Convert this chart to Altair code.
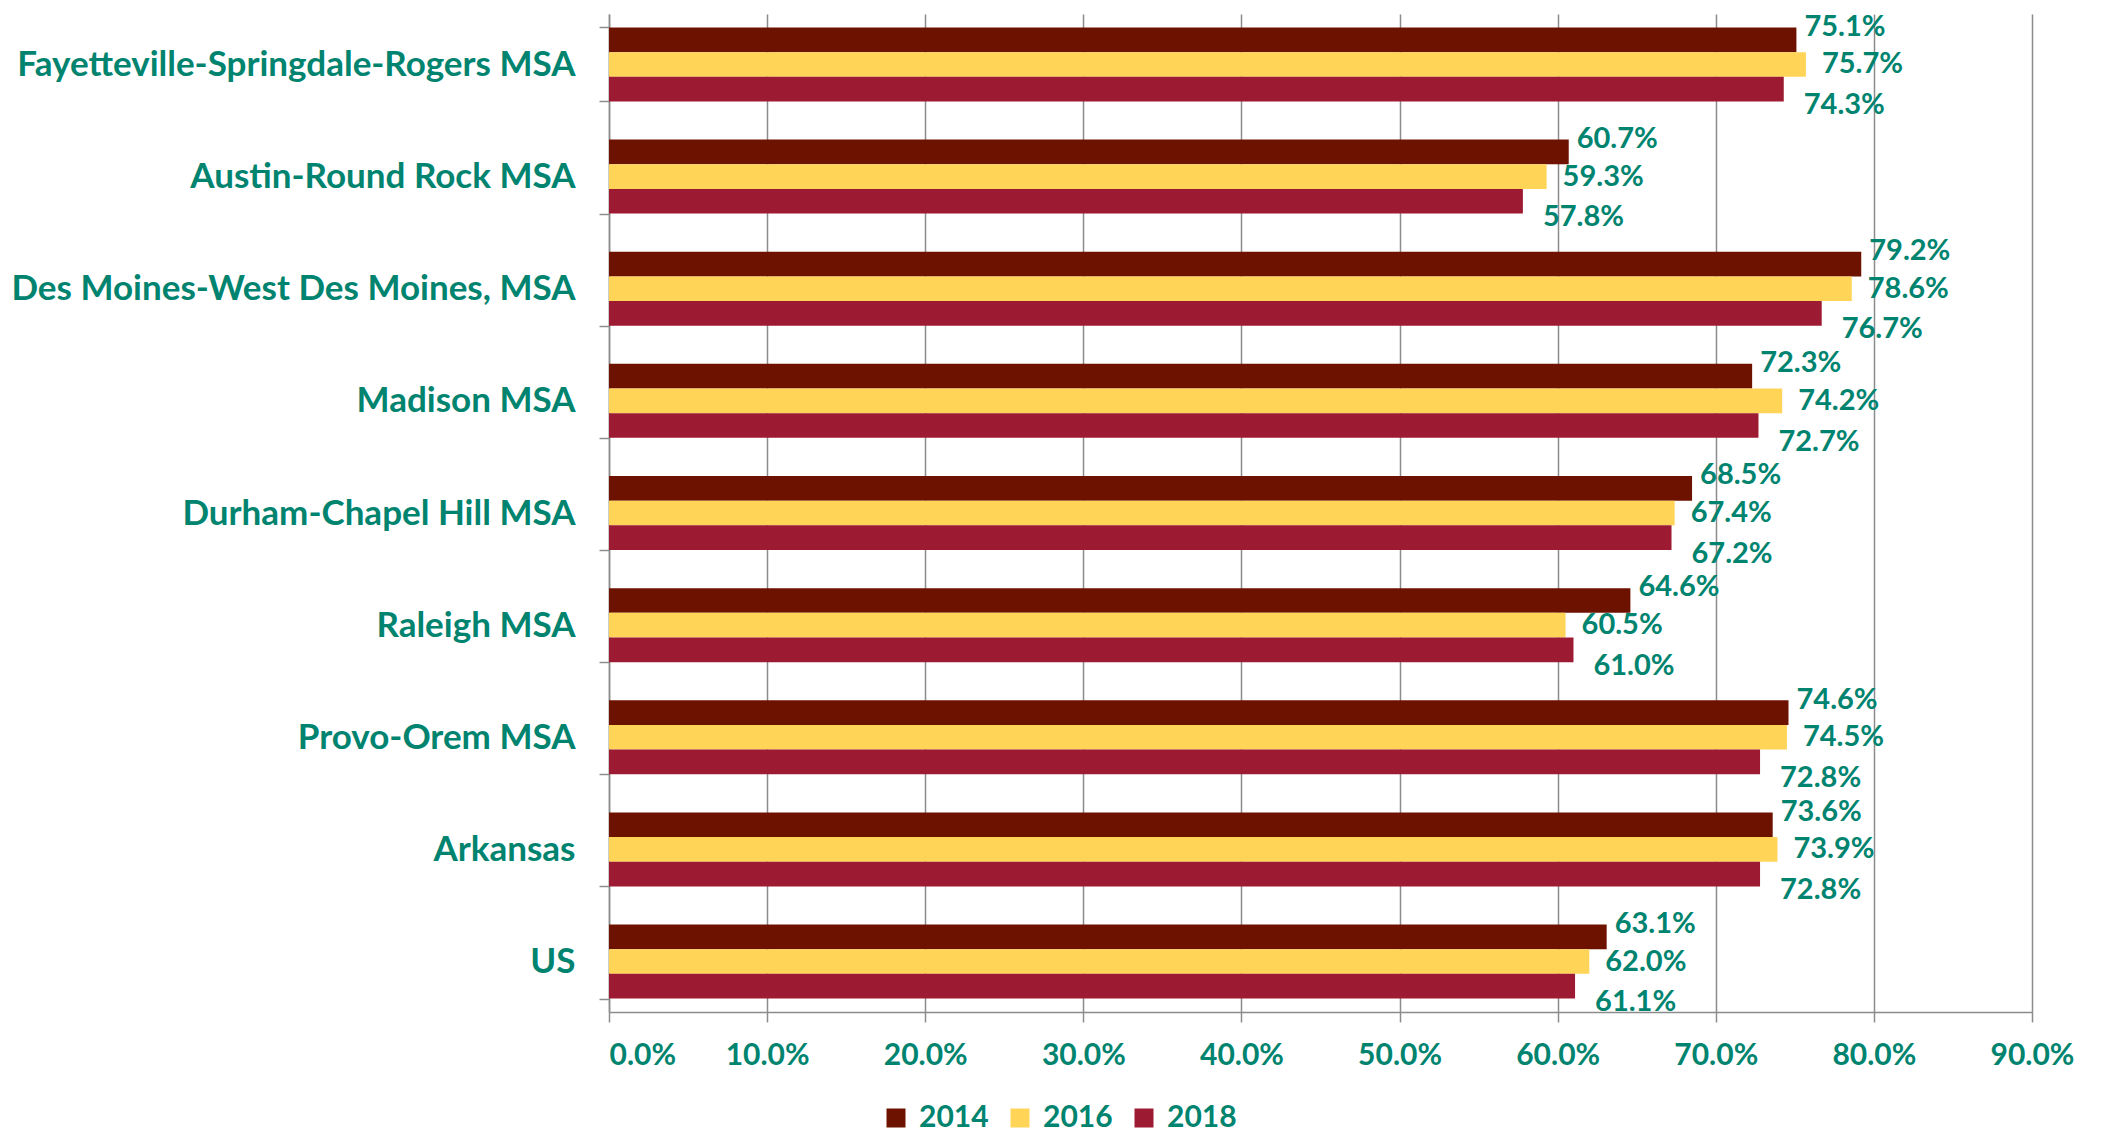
import altair as alt
import pandas as pd

categories = [
    "Fayetteville-Springdale-Rogers MSA",
    "Austin-Round Rock MSA",
    "Des Moines-West Des Moines, MSA",
    "Madison MSA",
    "Durham-Chapel Hill MSA",
    "Raleigh MSA",
    "Provo-Orem MSA",
    "Arkansas",
    "US",
]
years = ["2014", "2016", "2018"]
v2014 = [75.1, 60.7, 79.2, 72.3, 68.5, 64.6, 74.6, 73.6, 63.1]
v2016 = [75.7, 59.3, 78.6, 74.2, 67.4, 60.5, 74.5, 73.9, 62.0]
v2018 = [74.3, 57.8, 76.7, 72.7, 67.2, 61.0, 72.8, 72.8, 61.1]
x_ticks = [0.0, 0.1, 0.2, 0.3, 0.4, 0.5, 0.6, 0.7, 0.8, 0.9]

colors = ["#6E1200", "#FFD457", "#9D1B32"]
TEAL = "#00846F"
GRAY = "#8c8c8c"
FONT = "Lato"
WEIGHT = "bold"

rows = []
for yr, vals in zip(years, [v2014, v2016, v2018]):
    for c, v in zip(categories, vals):
        rows.append({"category": c, "year": yr, "value": v / 100.0})
df = pd.DataFrame(rows)

y_enc = alt.Y(
    "category:N",
    sort=categories,
    scale=alt.Scale(paddingInner=0.34, paddingOuter=0.12),
    axis=alt.Axis(
        title=None,
        grid=False,
        ticks=True,
        tickBand="extent",
        tickSize=10,
        labelPadding=24,
        labelLimit=0,
        labelFontSize=35,
    ),
)
yoff_enc = alt.YOffset(
    "year:N", sort=years, scale=alt.Scale(domain=years, paddingInner=0, paddingOuter=0)
)
x_enc = alt.X(
    "value:Q",
    scale=alt.Scale(domain=[0, 0.9], nice=False, zero=True),
    axis=alt.Axis(
        title=None,
        format=".1%",
        values=x_ticks,
        grid=True,
        tickSize=10,
        labelPadding=18,
        labelFlush=False,
        labelFontSize=30,
        labelAlign={"condition": {"test": "datum.value == 0", "value": "left"}, "value": "center"},
    ),
)

base = alt.Chart(df)

bars = base.mark_bar().encode(
    y=y_enc,
    yOffset=yoff_enc,
    x=x_enc,
    color=alt.Color(
        "year:N",
        scale=alt.Scale(domain=years, range=colors),
        legend=alt.Legend(
            title=None,
            orient="none",
            direction="horizontal",
            legendX=272,
            legendY=1089,
            symbolType="square",
            symbolSize=361,
            symbolStrokeWidth=0,
            labelFont=FONT,
            labelFontSize=30,
            labelFontWeight=WEIGHT,
            labelColor=TEAL,
            labelOffset=8,
            columnPadding=16,
        ),
    ),
)

offsets = {"2014": (8, -13), "2016": (16, 0), "2018": (20, 16)}
texts = []
for yr in years:
    dx, dy = offsets[yr]
    texts.append(
        base.transform_filter(alt.datum.year == yr)
        .mark_text(
            align="left",
            baseline="middle",
            dx=dx,
            dy=dy,
            font=FONT,
            fontSize=29,
            fontWeight=WEIGHT,
            color=TEAL,
        )
        .encode(
            y=y_enc,
            yOffset=yoff_enc,
            x=x_enc,
            text=alt.Text("value:Q", format=".1%"),
        )
    )

chart = (
    alt.layer(bars, *texts)
    .properties(
        width=1423,
        height=998,
        padding={"left": 601, "top": 6, "right": 70, "bottom": 122},
        autosize=alt.AutoSizeParams(type="none"),
    )
    .configure_view(stroke=None)
    .configure_axis(
        labelFont=FONT,
        labelFontWeight=WEIGHT,
        labelColor=TEAL,
        domainColor=GRAY,
        domainWidth=1.5,
        tickColor=GRAY,
        tickWidth=1.5,
        gridColor=GRAY,
        gridWidth=1.5,
    )
)

chart.save("out.html", embed_options={"renderer": "svg", "actions": False})
